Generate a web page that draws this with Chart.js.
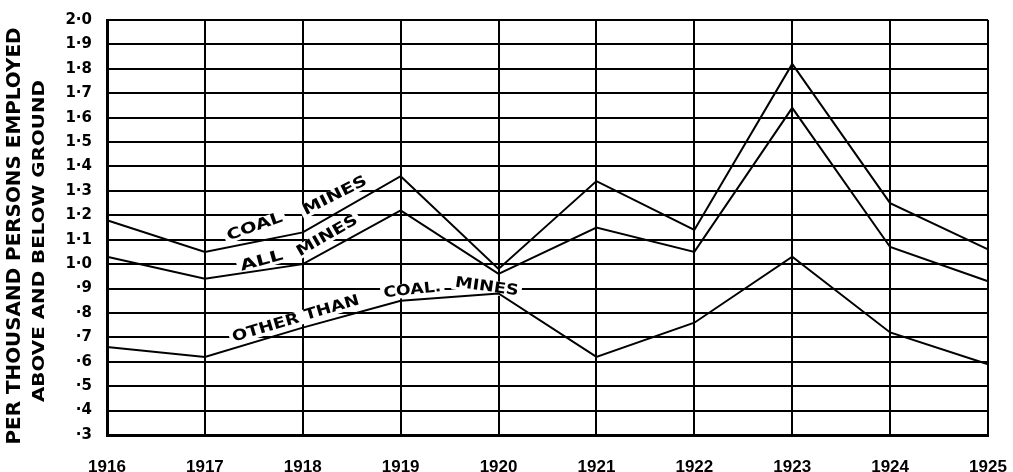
<!DOCTYPE html>
<html>
<head>
<meta charset="utf-8">
<script src="https://cdn.jsdelivr.net/npm/chart.js@4/dist/chart.umd.min.js"></script>
<style>
  html, body { margin: 0; padding: 0; background: #fff; }
  #wrap { width: 1013px; height: 472px; position: relative; }
</style>
</head>
<body>
<div id="wrap"><canvas id="c"></canvas></div>
<script>
const years = ['1916', '1917', '1918', '1919', '1920', '1921', '1922', '1923', '1924', '1925'];
const coalMines = [1.18, 1.05, 1.13, 1.36, 0.98, 1.34, 1.14, 1.82, 1.25, 1.06];
const allMines = [1.03, 0.94, 1.00, 1.22, 0.96, 1.15, 1.05, 1.64, 1.07, 0.93];
const otherThanCoalMines = [0.66, 0.62, 0.74, 0.85, 0.88, 0.62, 0.76, 1.03, 0.72, 0.59];
const yTickValues = [2.0, 1.9, 1.8, 1.7, 1.6, 1.5, 1.4, 1.3, 1.2, 1.1, 1.0, 0.9, 0.8, 0.7, 0.6, 0.5, 0.4, 0.3];
const yTickLabels = ['2·0', '1·9', '1·8', '1·7', '1·6', '1·5', '1·4', '1·3', '1·2', '1·1', '1·0', '·9', '·8', '·7', '·6', '·5', '·4', '·3'];
const yTitleLine1 = 'PER THOUSAND PERSONS EMPLOYED';
const yTitleLine2 = 'ABOVE AND BELOW GROUND';

const FONT = '"DejaVu Sans", "Liberation Sans", sans-serif';

// line labels, anchored in data coordinates (x = year index, y = value)
const lineLabels = [
  { text: 'COAL',  x: 1.51, y: 1.152, angle: -19.6, width: 58 },
  { text: 'MINES', x: 2.33, y: 1.279, angle: -26.6, width: 70 },
  { text: 'ALL',   x: 1.58, y: 1.012, angle: -15.6, width: 44 },
  { text: 'MINES', x: 2.25, y: 1.115, angle: -30.0, width: 68 },
  { text: 'OTHER THAN', x: 1.93, y: 0.775, angle: -16.7, width: 132 },
  { text: 'COAL.', x: 3.12, y: 0.893, angle: -6, width: 58 },
  { text: 'MINES', x: 3.88, y: 0.906, angle: 8, width: 64 }
];

function drawFit(ctx, text, cx, cy, angleDeg, width, size, bg) {
  ctx.save();
  ctx.translate(cx, cy);
  ctx.rotate(angleDeg * Math.PI / 180);
  ctx.font = 'bold ' + size + 'px ' + FONT;
  const m = ctx.measureText(text).width;
  const sx = width / m;
  if (bg) {
    ctx.fillStyle = '#fff';
    const h = size * 0.8;
    ctx.fillRect(-width / 2 - 3, -h / 2 - 1, width + 6, h + 2);
  }
  ctx.scale(sx, 1);
  ctx.textAlign = 'center';
  ctx.textBaseline = 'middle';
  ctx.fillStyle = '#000';
  ctx.fillText(text, 0, 0);
  ctx.restore();
}

const annotatePlugin = {
  id: 'annotate',
  beforeDatasetsDraw(chart) {
    const ctx = chart.ctx;
    const xs = chart.scales.x, ys = chart.scales.y;
    lineLabels.forEach(l => {
      drawFit(ctx, l.text, xs.getPixelForValue(l.x), ys.getPixelForValue(l.y), l.angle, l.width, 15, true);
    });
  },
  afterDraw(chart) {
    const ctx = chart.ctx;
    drawFit(ctx, yTitleLine1, 15, 236, -90, 417, 20, false);
    drawFit(ctx, yTitleLine2, 40, 241, -90, 322, 16, false);
  }
};

const lineStyle = {
  borderColor: '#000',
  borderWidth: 2,
  pointRadius: 0,
  tension: 0,
  fill: false
};

new Chart(document.getElementById('c'), {
  type: 'line',
  data: {
    labels: years,
    datasets: [
      Object.assign({ label: 'Coal mines', data: coalMines }, lineStyle),
      Object.assign({ label: 'All mines', data: allMines }, lineStyle),
      Object.assign({ label: 'Other than coal mines', data: otherThanCoalMines }, lineStyle)
    ]
  },
  options: {
    responsive: true,
    maintainAspectRatio: false,
    animation: false,
    layout: { padding: { top: 20, right: 25, left: 0, bottom: 0 } },
    plugins: { legend: { display: false }, tooltip: { enabled: false } },
    scales: {
      x: {
        type: 'category',
        offset: false,
        grid: { color: '#000', lineWidth: 2, drawTicks: false, offset: false },
        border: { color: '#000', width: 3 },
        ticks: {
          color: '#000',
          padding: 22,
          maxRotation: 0,
          autoSkip: false,
          font: { family: '"Liberation Sans", sans-serif', size: 17, weight: 'bold' }
        },
        afterFit(scale) { scale.height = 37; scale.paddingLeft = 0; scale.paddingRight = 0; }
      },
      y: {
        type: 'linear',
        min: 0.3,
        max: 2.0,
        grid: { color: '#000', lineWidth: 2, drawTicks: false },
        border: { color: '#000', width: 3 },
        afterBuildTicks(scale) { scale.ticks = yTickValues.map(v => ({ value: v })); },
        ticks: {
          color: '#000',
          padding: 15,
          font: { family: FONT, size: 15, weight: 'bold' },
          callback(value) {
            const i = yTickValues.findIndex(v => Math.abs(v - value) < 1e-6);
            return i >= 0 ? yTickLabels[i] : '';
          }
        },
        afterFit(scale) { scale.width = 107; scale.paddingTop = 0; scale.paddingBottom = 0; }
      }
    }
  },
  plugins: [annotatePlugin]
});
</script>
</body>
</html>
